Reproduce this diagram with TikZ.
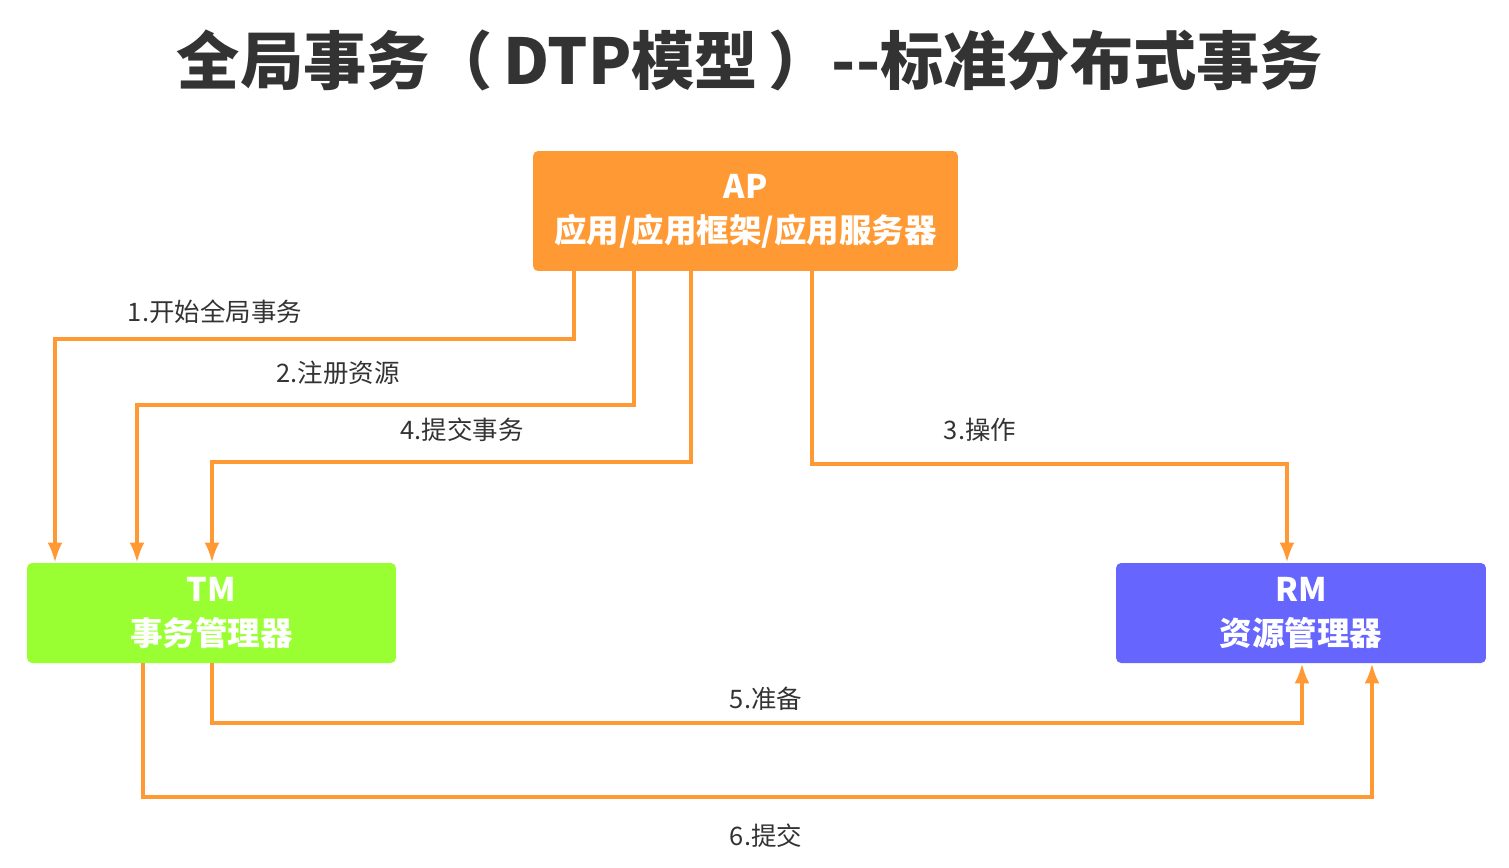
\documentclass[tikz,border=0pt]{standalone}
\usepackage{fontspec}
\setmainfont{Noto Sans CJK SC}
\usetikzlibrary{arrows.meta}
\definecolor{apcol}{HTML}{FF9933}
\definecolor{tmcol}{HTML}{99FF33}
\definecolor{rmcol}{HTML}{6666FF}
\definecolor{linecol}{HTML}{FF9933}
\definecolor{txtcol}{HTML}{333333}
\begin{document}
\begin{tikzpicture}[x=0.02cm, y=-0.02cm,
    box/.style={rounded corners=0.1cm, text=white, align=center,
        font=\fontsize{18.5}{25}\selectfont\bfseries},
    flow/.style={draw=linecol, line width=2.1pt,
        -{Latex[length=0.4cm,width=0.3cm]}},
    lbl/.style={text=txtcol, font=\fontsize{14.5}{17}\selectfont}]
    \useasboundingbox (0,0) rectangle (1509,867);

    % title
    \node[text=txtcol, font=\fontsize{36}{40}\selectfont\bfseries] (title) at (750,60)
        {全局事务（\,DTP模型\,）{-}{-}标准分布式事务};

    % boxes
    \node[box, fill=apcol, minimum width=8.5cm, minimum height=2.4cm] (ap) at (745.5,211)
        {AP\\应用/应用框架/应用服务器};
    \node[box, fill=tmcol, minimum width=7.38cm, minimum height=2cm] (tm) at (211.5,613)
        {TM\\事务管理器};
    \node[box, fill=rmcol, minimum width=7.4cm, minimum height=2cm] (rm) at (1301,613)
        {RM\\资源管理器};

    % AP -> TM / RM
    \draw[flow] (574,0 |- ap.south) |- (55,339) -- (55,0 |- tm.north);
    \draw[flow] (634,0 |- ap.south) |- (137,405) -- (137,0 |- tm.north);
    \draw[flow] (691,0 |- ap.south) |- (212,462) -- (212,0 |- tm.north);
    \draw[flow] (812,0 |- ap.south) |- (1287,464) -- (1287,0 |- rm.north);

    % TM -> RM
    \draw[flow] (212,0 |- tm.south) |- (1302,723) -- (1302,0 |- rm.south);
    \draw[flow] (143,0 |- tm.south) |- (1372,797) -- (1372,0 |- rm.south);

    \node[lbl] (l1) at (215,312) {1.开始全局事务};
    \node[lbl] (l2) at (338,373) {2.注册资源};
    \node[lbl] (l4) at (462,430) {4.提交事务};
    \node[lbl] (l3) at (980,430) {3.操作};
    \node[lbl] (l5) at (766,699) {5.准备};
    \node[lbl] (l6) at (766,836) {6.提交};
\end{tikzpicture}
\end{document}
